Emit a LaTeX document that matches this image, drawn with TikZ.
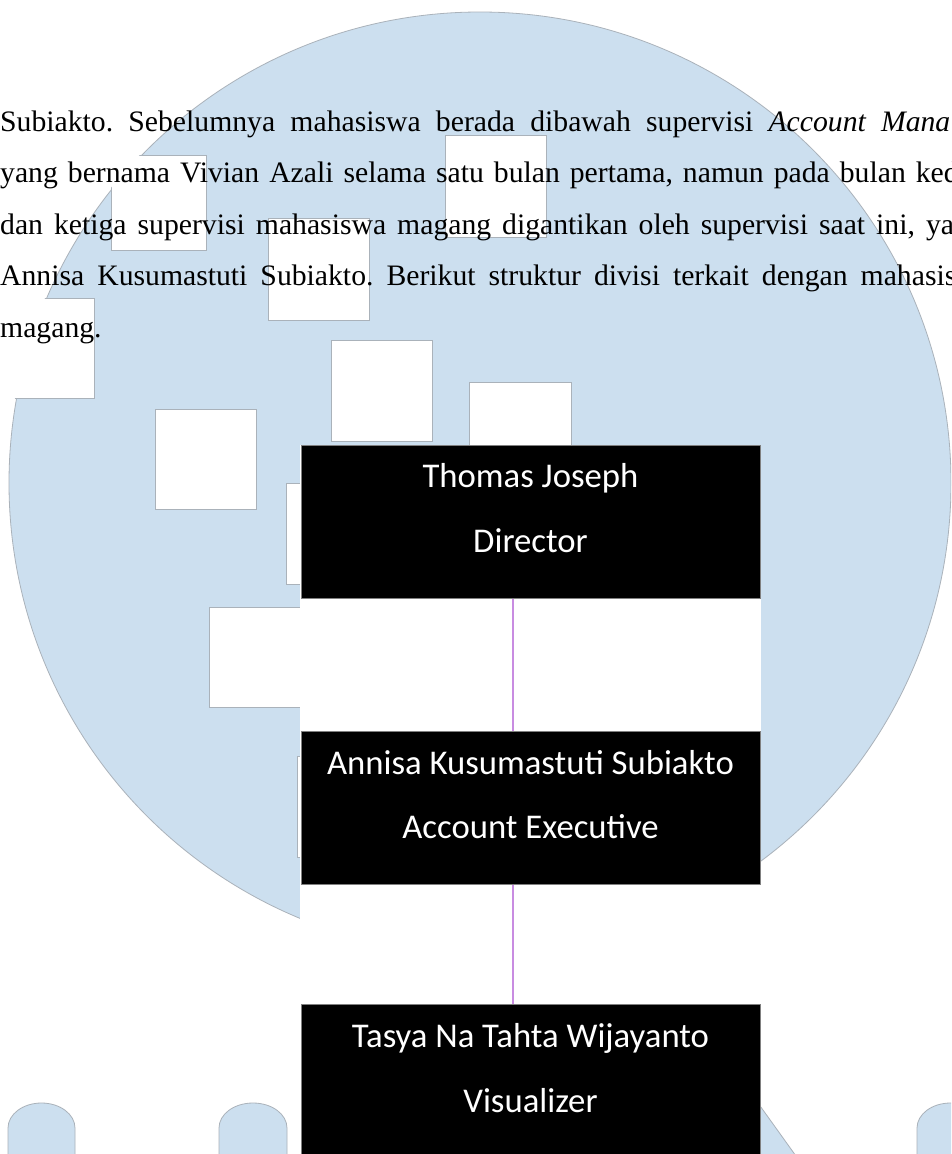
\documentclass[tikz,border=0pt]{standalone}
\usepackage{fontspec}
\setmainfont{Liberation Serif}
\newfontfamily\boxfont{Carlito}
\definecolor{wmblue}{RGB}{204,223,239}
\definecolor{wmedge}{RGB}{170,178,186}
\definecolor{connviolet}{RGB}{200,140,225}
\definecolor{boxedge}{RGB}{128,128,128}
\begin{document}
\begin{tikzpicture}[x=1pt,y=-1pt,
  para/.style={anchor=base west, inner sep=0pt, text=black,
    font=\fontsize{29.7}{35}\selectfont\frenchspacing},
  orgbox/.style={fill=black, draw=boxedge, line width=1pt,
    minimum width=459pt, minimum height=153pt, inner sep=0pt},
  boxlbl/.style={anchor=base, inner sep=0pt, text=white,
    font=\boxfont\fontsize{34.7}{40}\selectfont},
  conn/.style={draw=connviolet, line width=1.5pt},
  hole/.style={fill=white, draw=wmedge, line width=0.8pt},
  wm/.style={fill=wmblue, draw=wmedge, line width=0.8pt}]

\useasboundingbox (0,0) rectangle (951,1154);
\clip (0,0) rectangle (951,1154);
\fill[white] (0,0) rectangle (951,1154);

% watermark dome
\path[wm] (480,483) circle[radius=471pt];
\begin{scope}
  \clip (480,483) circle[radius=472.5pt];
  \path[hole] (111,155) rectangle (206,250);
  \path[hole] (445,135) rectangle (546,237);
  \path[hole] (268,218) rectangle (369,320);
  \path[hole] (331,340) rectangle (432,441);
  \path[hole] (469,382) rectangle (571,483);
  \path[hole] (155,409) rectangle (256,509);
  \path[hole] (-7,298) rectangle (94,398);
  \path[hole] (286,483) rectangle (387,584);
  \path[hole] (209,607) rectangle (310,707);
  \path[hole] (297,756) rectangle (398,857);
\end{scope}

% watermark letters at the bottom
\path[wm] (8,1170) -- (8,1128) .. controls (8,1114.2) and (23,1103) .. (41.5,1103)
  .. controls (60,1103) and (75,1114.2) .. (75,1128) -- (75,1170) -- cycle;
\path[wm] (219,1170) -- (219,1128) .. controls (219,1114.2) and (234,1103) .. (253,1103)
  .. controls (272,1103) and (287,1114.2) .. (287,1128) -- (287,1170) -- cycle;
\path[wm] (917,1170) -- (917,1128) .. controls (917,1114.2) and (932,1103) .. (950.5,1103)
  .. controls (969,1103) and (984,1114.2) .. (984,1128) -- (984,1170) -- cycle;
\path[wm] (700,1170) -- (700,1103) -- (752,1103) .. controls (757,1103) and (760,1105) .. (763,1110)
  -- (806,1170) -- cycle;

% pasted chart background
\fill[white] (300,445) rectangle (761,1170);

% paragraph text
\node[para] (l1) at (0,131) {\spaceskip=15.2pt Subiakto. Sebelumnya mahasiswa berada dibawah supervisi \textit{Account Mana}};
\node[para] (l2) at (0,182.6) {\spaceskip=10pt yang bernama Vivian Azali selama satu bulan pertama, namun pada bulan ked};
\node[para] (l3) at (0,234.2) {\spaceskip=11pt dan ketiga supervisi mahasiswa magang digantikan oleh supervisi saat ini, ya};
\node[para] (l4) at (0,285.8) {\spaceskip=13pt Annisa Kusumastuti Subiakto. Berikut struktur divisi terkait dengan mahasis};
\node[para] (l5) at (0,337.4) {magang.};

% org chart
\node[orgbox] (b1) at (530.5,521.5) {};
\node[orgbox] (b2) at (530.5,807.5) {};
\node[orgbox] (b3) at (530.5,1080.5) {};

\draw[conn] ([xshift=-17.5pt]b1.south) -- ([xshift=-17.5pt]b2.north);
\draw[conn] ([xshift=-17.5pt]b2.south) -- ([xshift=-17.5pt]b3.north);

\node[boxlbl] (n1) at (530.5,487) {Thomas Joseph};
\node[boxlbl] (r1) at (530.5,552) {Director};
\node[boxlbl] (n2) at (530.5,774) {Annisa Kusumastuti Subiakto};
\node[boxlbl] (r2) at (530.5,838) {Account Executive};
\node[boxlbl] (n3) at (530.5,1047) {Tasya Na Tahta Wijayanto};
\node[boxlbl] (r3) at (530.5,1112) {Visualizer};
\end{tikzpicture}
\end{document}
